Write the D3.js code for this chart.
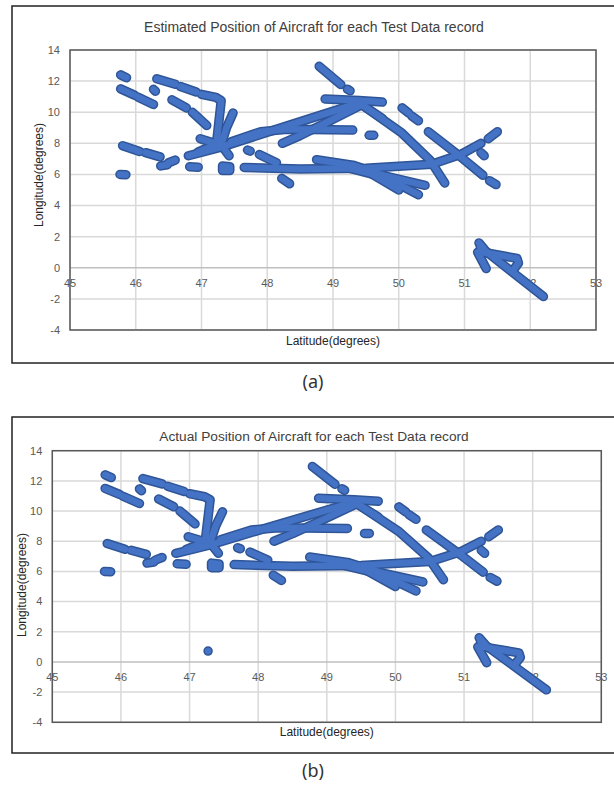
<!DOCTYPE html>
<html>
<head>
<meta charset="utf-8">
<script src="https://cdn.jsdelivr.net/npm/d3@7"></script>
<style>
  body { margin: 0; background: #fff; }
  svg { display: block; }
</style>
</head>
<body>
<div id="chart"></div>
<script>
// ticks
const latTicks = [45, 46, 47, 48, 49, 50, 51, 52, 53]
const lonTicks = [-4, -2, 0, 2, 4, 6, 8, 10, 12, 14]

// text
const titles = [
  'Estimated Position of Aircraft for each Test Data record',
  'Actual Position of Aircraft for each Test Data record',
]
const captions = ['(a)', '(b)']
const xTitle = 'Latitude(degrees)'
const yTitle = 'Longitude(degrees)'

// test data records, one run of consecutive [latitude, longitude] per entry
const tracks = [
  // north-west
  [[45.77, 12.4], [45.86, 12.22]],
  [[45.77, 11.5], [45.98, 11.1]],
  [[46.03, 10.98], [46.27, 10.5]],
  [[46.27, 11.47], [46.3, 11.35]],
  [[46.32, 12.15], [46.6, 11.8]],
  [[46.68, 11.65], [46.92, 11.3]],
  [[47.0, 11.15], [47.22, 10.95], [47.3, 10.75], [47.27, 9.6], [47.22, 7.7]],
  [[46.55, 10.8], [46.77, 10.28]],
  [[46.86, 10.0], [47.08, 9.15]],
  [[47.48, 9.95], [47.38, 9.0], [47.3, 7.9], [47.42, 7.2]],
  [[46.98, 8.3], [47.2, 8.0]],
  [[46.95, 7.45], [47.2, 7.9]],
  // upper band towards the peak
  [[46.8, 7.2], [47.3, 7.75], [48.1, 8.85], [49.4, 10.6]],
  [[47.45, 8.1], [47.9, 8.75], [48.3, 8.9], [49.3, 8.85]],
  [[48.23, 8.0], [48.5, 8.5], [49.0, 9.55], [49.4, 10.4]],
  // south-west
  [[45.8, 7.85], [46.06, 7.47]],
  [[46.15, 7.4], [46.37, 7.13]],
  [[46.38, 6.55], [46.48, 6.62]],
  [[46.5, 6.75], [46.6, 6.92]],
  [[46.82, 6.5], [46.95, 6.47]],
  [[45.76, 6.0], [45.85, 5.98]],
  [[47.32, 6.25], [47.32, 6.55], [47.43, 6.5], [47.43, 6.25], [47.32, 6.25]],
  [[47.7, 7.57], [47.74, 7.5]],
  [[47.88, 7.28], [48.14, 6.75]],
  [[48.22, 5.75], [48.34, 5.4]],
  // lower band
  [[47.65, 6.45], [48.5, 6.35], [49.5, 6.4], [50.5, 6.65], [50.95, 7.3], [51.25, 8.0]],
  [[51.36, 8.3], [51.5, 8.75]],
  [[48.75, 6.95], [49.3, 6.6], [49.8, 5.9], [50.4, 5.3]],
  [[49.2, 6.45], [49.8, 5.8], [50.3, 4.7]],
  [[49.6, 6.0], [50.0, 5.0]],
  // peak and east
  [[48.88, 10.85], [49.4, 10.75], [49.75, 10.65]],
  [[49.4, 10.6], [50.05, 8.65], [50.48, 6.9], [50.7, 5.45]],
  [[49.45, 10.45], [49.75, 9.6]],
  [[48.79, 12.95], [49.12, 11.78]],
  [[49.22, 11.48], [49.26, 11.38]],
  [[50.05, 10.28], [50.15, 9.95]],
  [[50.2, 9.75], [50.3, 9.45]],
  [[49.55, 8.52], [49.62, 8.52]],
  [[50.45, 8.75], [50.95, 7.1], [51.28, 5.95]],
  [[51.38, 5.6], [51.48, 5.35]],
  [[51.25, 7.4], [51.3, 7.2]],
  // south-east arrow
  [[52.2, -1.85], [51.72, -0.25], [51.24, 1.35]],
  [[51.22, 1.6], [51.3, 1.2]],
  [[51.2, 1.0], [51.33, -0.05]],
  [[51.28, 1.0], [51.8, 0.6], [51.82, 0.3], [51.75, -0.1]],
]

// records only seen in the actual positions
const actualOnly = [[47.27, 0.72]]

// style
const fill = '#4472c4'
const edge = '#2f5597'
const grid = '#d9d9d9'
const font = 'Liberation Sans, Arial, sans-serif'

// layout of the two charts
const panels = [
  {
    title: titles[0], caption: captions[0], points: [], titleSize: 14,
    box: { x: 12, y: 6, h: 357 },
    plot: { l: 70, r: 596, t: 50, b: 330 },
    titleY: 27, xTitleY: 341, yTitleX: 39, yTitleY: 175, captionY: 382,
  },
  {
    title: titles[1], caption: captions[1], points: actualOnly, titleSize: 13.7,
    box: { x: 12, y: 417, h: 336 },
    plot: { l: 52.3, r: 601.3, t: 450.7, b: 722.3 },
    titleY: 436, xTitleY: 732, yTitleX: 22, yTitleY: 585, captionY: 771,
  },
]

const svg = d3
  .select('#chart')
  .append('svg')
  .attr('width', 614)
  .attr('height', 791)

panels.forEach(drawPanel)

function drawPanel(p) {
  const g = svg.append('g')

  const x = d3.scaleLinear().domain([45, 53]).range([p.plot.l, p.plot.r])
  const y = d3.scaleLinear().domain([-4, 14]).range([p.plot.b, p.plot.t])

  // chart frame, runs off the right edge like the source
  g.append('rect')
    .attr('x', p.box.x)
    .attr('y', p.box.y)
    .attr('width', 640)
    .attr('height', p.box.h)
    .attr('fill', 'none')
    .attr('stroke', '#222')
    .attr('stroke-width', 1.5)

  // gridlines
  g.append('g')
    .selectAll('line')
    .data(latTicks)
    .join('line')
    .attr('x1', d => x(d))
    .attr('x2', d => x(d))
    .attr('y1', p.plot.t)
    .attr('y2', p.plot.b)
    .attr('stroke', grid)
    .attr('stroke-width', 1.5)

  g.append('g')
    .selectAll('line')
    .data(lonTicks)
    .join('line')
    .attr('x1', p.plot.l)
    .attr('x2', p.plot.r)
    .attr('y1', d => y(d))
    .attr('y2', d => y(d))
    .attr('stroke', d => (d === 0 ? '#bfbfbf' : grid))
    .attr('stroke-width', 1.5)

  // tick labels
  g.append('g')
    .selectAll('text')
    .data(lonTicks)
    .join('text')
    .attr('x', p.plot.l - 10)
    .attr('y', d => y(d))
    .attr('dy', '0.35em')
    .attr('text-anchor', 'end')
    .attr('font-family', font)
    .attr('font-size', '11px')
    .attr('fill', '#595959')
    .text(d => d)

  g.append('g')
    .selectAll('text')
    .data(latTicks)
    .join('text')
    .attr('x', d => x(d))
    .attr('y', y(0) + 15)
    .attr('dy', '0.35em')
    .attr('text-anchor', 'middle')
    .attr('font-family', font)
    .attr('font-size', '11px')
    .attr('fill', '#595959')
    .text(d => d)

  // plot area border
  g.append('rect')
    .attr('x', p.plot.l)
    .attr('y', p.plot.t)
    .attr('width', p.plot.r - p.plot.l)
    .attr('height', p.plot.b - p.plot.t)
    .attr('fill', 'none')
    .attr('stroke', '#595959')
    .attr('stroke-width', 1.5)

  // records: dark edge first, then the fill on top so runs merge
  const line = d3.line().x(d => x(d[0])).y(d => y(d[1]))

  const marks = g.append('g')
  marks
    .selectAll('path.edge')
    .data(tracks)
    .join('path')
    .attr('class', 'edge')
    .attr('d', line)
    .attr('fill', 'none')
    .attr('stroke', edge)
    .attr('stroke-width', 9.5)
    .attr('stroke-linecap', 'round')
    .attr('stroke-linejoin', 'round')

  marks
    .selectAll('path.fill')
    .data(tracks)
    .join('path')
    .attr('class', 'fill')
    .attr('d', line)
    .attr('fill', 'none')
    .attr('stroke', fill)
    .attr('stroke-width', 6.5)
    .attr('stroke-linecap', 'round')
    .attr('stroke-linejoin', 'round')

  marks
    .selectAll('circle')
    .data(p.points)
    .join('circle')
    .attr('cx', d => x(d[0]))
    .attr('cy', d => y(d[1]))
    .attr('r', 4)
    .attr('fill', fill)
    .attr('stroke', edge)
    .attr('stroke-width', 1.5)

  // titles
  g.append('text')
    .attr('x', 314)
    .attr('y', p.titleY)
    .attr('dy', '0.35em')
    .attr('text-anchor', 'middle')
    .attr('font-family', font)
    .attr('font-size', p.titleSize + 'px')
    .attr('fill', '#404040')
    .text(p.title)

  g.append('text')
    .attr('x', (p.plot.l + p.plot.r) / 2)
    .attr('y', p.xTitleY)
    .attr('dy', '0.35em')
    .attr('text-anchor', 'middle')
    .attr('font-family', font)
    .attr('font-size', '12px')
    .attr('fill', '#262626')
    .text(xTitle)

  g.append('text')
    .attr('transform', `translate(${p.yTitleX}, ${p.yTitleY}) rotate(-90)`)
    .attr('dy', '0.35em')
    .attr('text-anchor', 'middle')
    .attr('font-family', font)
    .attr('font-size', '12px')
    .attr('fill', '#262626')
    .text(yTitle)

  // caption under the chart
  g.append('text')
    .attr('x', 313)
    .attr('y', p.captionY)
    .attr('dy', '0.35em')
    .attr('text-anchor', 'middle')
    .attr('font-family', 'Noto Sans, Open Sans, sans-serif')
    .attr('font-size', '18px')
    .attr('fill', '#333')
    .text(p.caption)
}
</script>
</body>
</html>
